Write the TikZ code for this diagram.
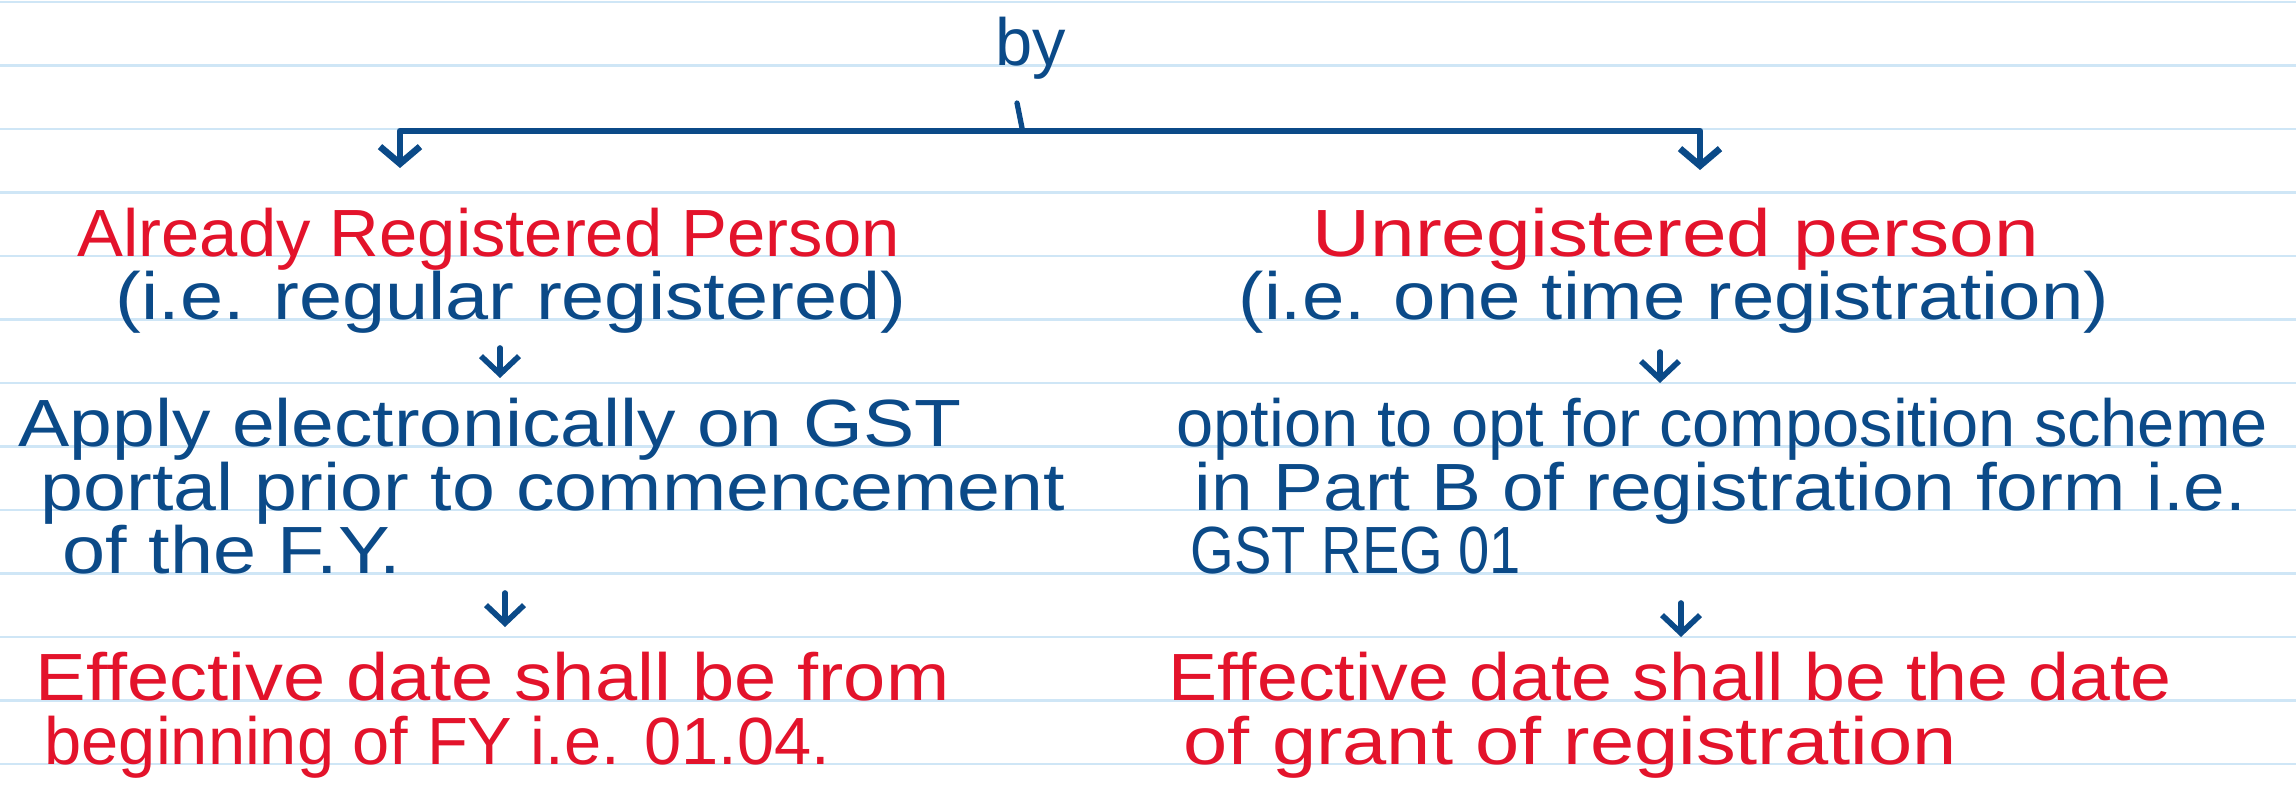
\documentclass[tikz,border=0pt]{standalone}
\usepackage{graphicx}
\usepackage{fontspec}
\setmainfont{Liberation Sans}
\usetikzlibrary{arrows.meta}
\definecolor{ink}{HTML}{0B4A88}
\definecolor{redink}{HTML}{E3132B}
\definecolor{ruleblue}{HTML}{CFE6F6}
\newcommand{\hw}[2]{\scalebox{#1}[1]{#2}}
\begin{document}
\begin{tikzpicture}[x=0.1mm,y=-0.1mm,
  txt/.style={inner sep=0pt, anchor=base west, font=\fontsize{19}{21}\selectfont},
  bluetxt/.style={txt, text=ink},
  redtxt/.style={txt, text=redink},
  conn/.style={draw=ink, line width=1.9pt, line cap=round, line join=round},
  arr/.style={conn, line width=1.6pt, -{Straight Barb[length=1.8mm,width=3.8mm]}},
  ruling/.style={draw=ruleblue, line width=0.7pt}]
\fill[white] (0,0) rectangle (2296,796);
\useasboundingbox (0,0) rectangle (2296,796);
\foreach \k in {0,...,12} \draw[ruling] (0,2+63.5*\k) -- (2296,2+63.5*\k);

% top
\node[bluetxt] (by) at (995,65.5) {by};
\coordinate (stubT) at (1017,103);
\coordinate (stubB) at (1022,128);
\draw[conn, line width=1.5pt] (stubT) -- (stubB);
\coordinate (barL) at (400,131);
\coordinate (barR) at (1700,131);
\coordinate (tipL) at (400,168);
\coordinate (tipR) at (1700,170);
\draw[conn, {Straight Barb[length=1.7mm,width=4mm]}-{Straight Barb[length=1.7mm,width=4mm]}] (tipL) -- (barL) -- (barR) -- (tipR);

% left branch
\node[redtxt] (arp) at (77,256) {\hw{1.03}{Already Registered Person}};
\node[bluetxt] (arpie) at (115,319.5) {\hw{1.16}{(i.e. regular registered)}};
\coordinate (a1s) at (500,348);
\coordinate (a1e) at (500,378);
\draw[arr] (a1s) -- (a1e);
\node[bluetxt] (apply1) at (18,446.5) {\hw{1.15}{Apply electronically on GST}};
\node[bluetxt] (apply2) at (40,510) {\hw{1.155}{portal prior to commencement}};
\node[bluetxt] (apply3) at (62,573.5) {\hw{1.16}{of the F.Y.}};
\coordinate (a2s) at (505,593);
\coordinate (a2e) at (505,627);
\draw[arr] (a2s) -- (a2e);
\node[redtxt] (eff1) at (35,700.5) {\hw{1.136}{Effective date shall be from}};
\node[redtxt] (eff2) at (44,764) {beginning of FY i.e. 01.04.};

% right branch
\node[redtxt] (unr) at (1312,256) {\hw{1.2}{Unregistered person}};
\node[bluetxt] (unrie) at (1238,319.5) {\hw{1.14}{(i.e. one time registration)}};
\coordinate (a3s) at (1660,352);
\coordinate (a3e) at (1660,383);
\draw[arr] (a3s) -- (a3e);
\node[bluetxt] (opt1) at (1176,446.5) {option to opt for composition scheme};
\node[bluetxt] (opt2) at (1194,510) {\hw{1.12}{in Part B of registration form i.e.}};
\node[bluetxt] (opt3) at (1190,573.5) {\hw{0.84}{GST REG 01}};
\coordinate (a4s) at (1681,603);
\coordinate (a4e) at (1681,637);
\draw[arr] (a4s) -- (a4e);
\node[redtxt] (effr1) at (1168,700.5) {\hw{1.1}{Effective date shall be the date}};
\node[redtxt] (effr2) at (1183,764) {\hw{1.19}{of grant of registration}};
\end{tikzpicture}
\end{document}
